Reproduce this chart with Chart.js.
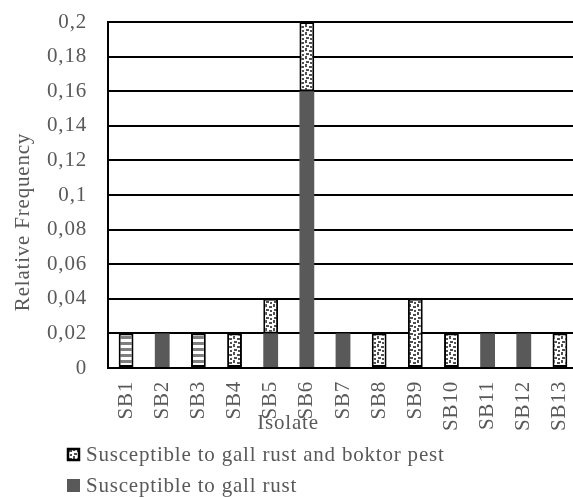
<!DOCTYPE html>
<html>
<head>
<meta charset="utf-8">
<script src="https://cdn.jsdelivr.net/npm/chart.js@4"></script>
<style>
  html, body { margin: 0; padding: 0; background: #fff; overflow: hidden; }
  #wrap { width: 580px; height: 497px; }
</style>
</head>
<body>
<div id="wrap"><canvas id="isolateChart"></canvas></div>
<script>
const isolates = ['SB1', 'SB2', 'SB3', 'SB4', 'SB5', 'SB6', 'SB7', 'SB8', 'SB9', 'SB10', 'SB11', 'SB12', 'SB13'];
const gallRust = [0, 0.02, 0, 0, 0.02, 0.16, 0.02, 0, 0, 0, 0.02, 0.02, 0];
const gallRustBoktor = [0, 0, 0, 0.02, 0.02, 0.04, 0, 0.02, 0.04, 0.02, 0, 0, 0.02];
const boktorOnly = [0.02, 0, 0.02, 0, 0, 0, 0, 0, 0, 0, 0, 0, 0];
const yTickLabels = ['0', '0,02', '0,04', '0,06', '0,08', '0,1', '0,12', '0,14', '0,16', '0,18', '0,2'];

const textGray = '#595959';
const fontFamily = "'Liberation Serif', 'Times New Roman', serif";

function dotPattern() {
  const c = document.createElement('canvas');
  c.width = 8;
  c.height = 8;
  const g = c.getContext('2d');
  g.fillStyle = '#ffffff';
  g.fillRect(0, 0, 8, 8);
  g.fillStyle = '#505050';
  g.fillRect(1, 0, 2, 3);
  g.fillRect(5, 2, 3, 2);
  g.fillRect(2, 5, 3, 2);
  g.fillRect(6, 6, 2, 2);
  return g.createPattern(c, 'repeat');
}

function stripePattern() {
  const c = document.createElement('canvas');
  c.width = 4;
  c.height = 6;
  const g = c.getContext('2d');
  g.fillStyle = '#ffffff';
  g.fillRect(0, 0, 4, 6);
  g.fillStyle = '#7f7f7f';
  g.fillRect(0, 0, 4, 3);
  return g.createPattern(c, 'repeat');
}

const dots = dotPattern();
const stripes = stripePattern();

function noPadding(scale) {
  scale.paddingLeft = 0;
  scale.paddingRight = 0;
  scale.paddingTop = 0;
  scale.paddingBottom = 0;
}

// draws axis titles and the two visible legend rows
const extras = {
  id: 'extras',
  beforeLayout(chart) { chart.ctx.letterSpacing = '0.8px'; },
  beforeDraw(chart) { chart.ctx.letterSpacing = '0.8px'; },
  afterDraw(chart) {
    const ctx = chart.ctx;
    const area = chart.chartArea;
    ctx.save();
    ctx.fillStyle = textGray;
    ctx.font = '21px ' + fontFamily;
    ctx.textBaseline = 'middle';
    ctx.textAlign = 'center';

    ctx.save();
    ctx.translate(area.left - 85, (area.top + area.bottom) / 2 + 27);
    ctx.rotate(-Math.PI / 2);
    ctx.fillText('Relative Frequency', 0, 0);
    ctx.restore();

    ctx.fillText('Isolate', area.left + 180, area.bottom + 55);

    ctx.textAlign = 'left';
    const order = [1, 0];
    order.forEach((dsIndex, row) => {
      const ds = chart.data.datasets[dsIndex];
      const y = area.bottom + 80 + row * 31;
      ctx.fillStyle = ds.backgroundColor;
      ctx.fillRect(67, y, 13, 13);
      if (ds.borderWidth) {
        ctx.strokeStyle = '#000000';
        ctx.lineWidth = 2.5;
        ctx.strokeRect(68, y + 1, 11, 11);
      }
      ctx.fillStyle = textGray;
      ctx.fillText(ds.label, 86, y + 7);
    });
    ctx.restore();
  }
};

document.addEventListener('DOMContentLoaded', () => {
  const ctx = document.getElementById('isolateChart').getContext('2d');
  new Chart(ctx, {
    type: 'bar',
    data: {
      labels: isolates,
      datasets: [
        {
          label: 'Susceptible to gall rust',
          data: gallRust,
          backgroundColor: '#595959',
          borderWidth: 0
        },
        {
          label: 'Susceptible to gall rust and boktor pest',
          data: gallRustBoktor,
          backgroundColor: dots,
          borderColor: '#000000',
          borderWidth: 2,
          borderSkipped: false
        },
        {
          label: 'Susceptible to boktor pest',
          data: boktorOnly,
          backgroundColor: stripes,
          borderColor: '#000000',
          borderWidth: 2,
          borderSkipped: false
        }
      ]
    },
    options: {
      responsive: true,
      maintainAspectRatio: false,
      animation: false,
      layout: { padding: { top: 22, right: 2, bottom: 59, left: 0 } },
      datasets: { bar: { barPercentage: 0.41, categoryPercentage: 1 } },
      plugins: {
        legend: { display: false },
        tooltip: { enabled: false }
      },
      scales: {
        x: {
          stacked: true,
          afterFit: scale => { scale.height = 70; noPadding(scale); },
          grid: { display: false, drawTicks: false },
          border: { color: '#000000', width: 2 },
          ticks: {
            color: textGray,
            font: { family: fontFamily, size: 21 },
            minRotation: 90,
            maxRotation: 90,
            padding: 13
          }
        },
        y: {
          stacked: true,
          min: 0,
          max: 0.2,
          afterFit: scale => { scale.width = 108; noPadding(scale); },
          grid: { color: '#000000', lineWidth: 2, drawTicks: false },
          border: { color: '#000000', width: 2 },
          ticks: {
            stepSize: 0.02,
            color: textGray,
            font: { family: fontFamily, size: 21 },
            padding: 21,
            callback: (value, index) => yTickLabels[index]
          }
        }
      }
    },
    plugins: [extras]
  });
});
</script>
</body>
</html>
